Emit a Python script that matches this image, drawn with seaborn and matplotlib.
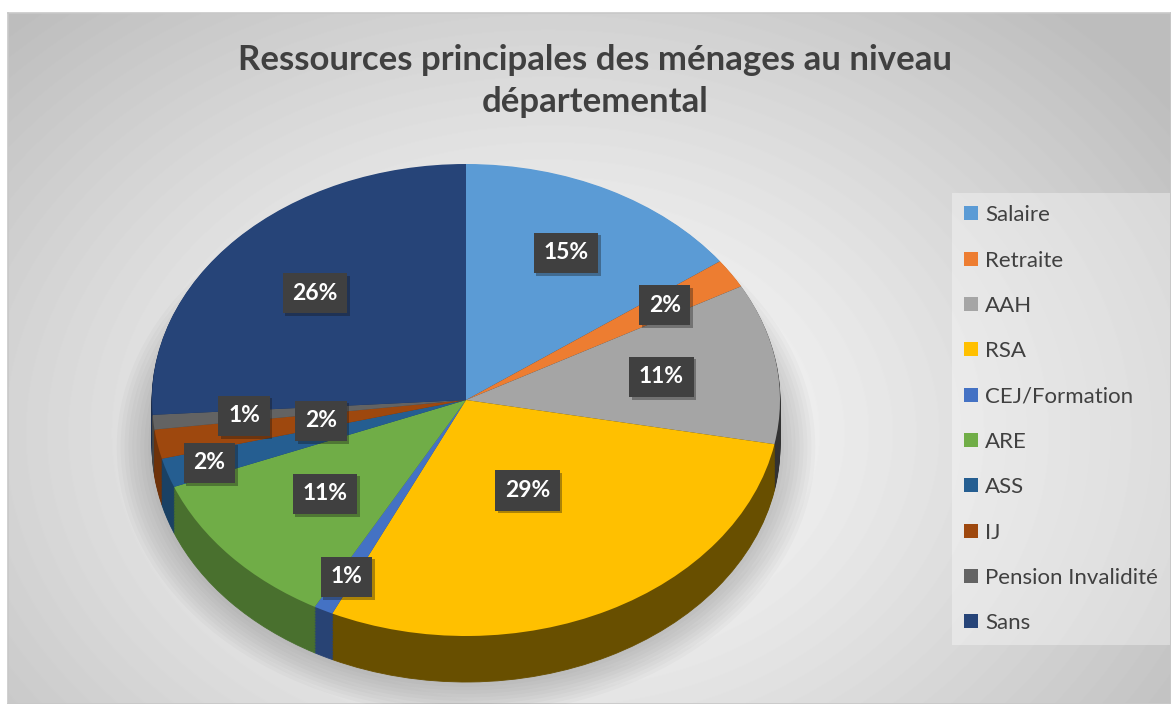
import numpy as np
import matplotlib
matplotlib.use("Agg")
import matplotlib.pyplot as plt
import matplotlib.patheffects as pe
from matplotlib.patches import Ellipse
import seaborn as sns

# données
categories = ["Salaire", "Retraite", "AAH", "RSA", "CEJ/Formation", "ARE",
              "ASS", "IJ", "Pension Invalidité", "Sans"]
parts = [15, 2, 11, 29, 1, 11, 2, 2, 1, 26]
couleurs = ["#5B9BD5", "#ED7D31", "#A5A5A5", "#FFC000", "#4472C4",
            "#70AD47", "#255E91", "#9E480E", "#636363", "#264478"]
# distance radiale de chaque étiquette (placement Excel)
dist_etiquettes = [0.70, 0.75, 0.63, 0.43, 0.84, 0.60, 0.86, 0.47, 0.71, 0.66]

sns.set_theme(style="white")
plt.rcParams['font.family'] = ['Lato', 'DejaVu Sans']

palette = sns.color_palette(couleurs)

# ombrage des côtés : plus clair à gauche, plus sombre à droite
cum = np.cumsum(parts)
milieux = np.deg2rad(90 - 360 * (cum - np.array(parts) / 2) / cum[-1])
facteurs = 0.5 - 0.2 * np.cos(milieux)
cotes = [tuple(c * f for c in col) for col, f in zip(palette, facteurs)]

W, H = 1171, 704
fig = plt.figure(figsize=(W / 100, H / 100), dpi=100)
fig.patch.set_facecolor("white")

# fond dégradé radial de la zone de graphique
bg = fig.add_axes([8 / W, 0, (W - 8) / W, (H - 13) / H])
yy, xx = np.mgrid[0:H - 13, 0:W - 8]
d = np.sqrt(((xx - 540) / 700.0) ** 2 + ((yy - 420) / 520.0) ** 2)
grad = np.clip(0.99 - 0.22 * d ** 1.3, 0.74, 1.0)
bg.imshow(grad, cmap="gray", vmin=0, vmax=1, aspect="auto",
          extent=(0, 1, 0, 1), origin="upper")
bg.set_xticks([])
bg.set_yticks([])
for s in bg.spines.values():
    s.set_color("#c8c8c8")
    s.set_linewidth(1.2)

# axe du camembert : ellipse de rayon 314 x 236 px
cx, cy, rx, ry = 466, 400, 314, 236
ax = fig.add_axes([0, 0, 1, 1])
ax.patch.set_alpha(0)

# ombre douce sous le camembert
for i in range(10):
    ax.add_patch(Ellipse((0.0, -0.2), 2.0 + 0.025 * i, 2.0 + 0.03 * i,
                         fc="black", ec="none", alpha=0.02, zorder=0))

# épaisseur du camembert (côtés)
profondeur = 46 / ry
for k in np.linspace(profondeur, 0.005, 30):
    ax.pie(parts, colors=cotes, startangle=90, counterclock=False,
           center=(0, -k), wedgeprops=dict(linewidth=0.6, edgecolor=None))
    for w in ax.patches[-len(parts):]:
        w.set_edgecolor(w.get_facecolor())

# face supérieure
wedges, _ = ax.pie(parts, colors=palette, startangle=90, counterclock=False,
                   wedgeprops=dict(linewidth=0))

for w, p, r in zip(wedges, parts, dist_etiquettes):
    ang = np.deg2rad((w.theta1 + w.theta2) / 2)
    t = ax.text(r * np.cos(ang), r * np.sin(ang), f"{p}%", ha="center",
                va="center", color="white", fontsize=16.5, fontweight="bold",
                bbox=dict(boxstyle="square,pad=0.42", fc="#404040", ec="none"),
                zorder=10)
    t.get_bbox_patch().set_path_effects([
        pe.SimplePatchShadow(offset=(2, -2), alpha=0.35), pe.Normal()])

ax.set_xlim(-cx / rx, (W - cx) / rx)
ax.set_ylim((cy - H) / ry, cy / ry)
ax.set_aspect("auto")
ax.axis("off")

# titre
fig.text(595 / W, 1 - 81 / H,
         "Ressources principales des ménages au niveau\ndépartemental",
         ha="center", va="center", fontsize=25, fontweight="bold",
         color="#404040", linespacing=1.42)

# légende
leg = fig.legend(wedges, categories, loc="upper left",
                 bbox_to_anchor=(952 / W, 1 - 193 / H), frameon=True,
                 fontsize=16, handlelength=0.6, handleheight=0.6,
                 handletextpad=0.35, labelspacing=1.14, borderpad=0.55,
                 borderaxespad=0, fancybox=False)
leg.get_frame().set_facecolor("white")
leg.get_frame().set_alpha(0.35)
leg.get_frame().set_edgecolor("none")
for t in leg.get_texts():
    t.set_color("#404040")

fig.savefig("out.png", dpi=100)
